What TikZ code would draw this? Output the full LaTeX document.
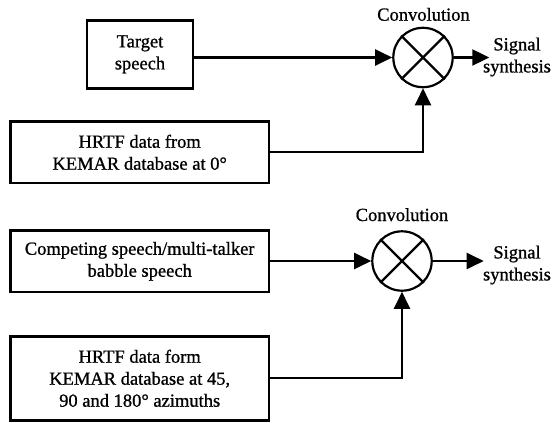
\documentclass[tikz,border=0pt]{standalone}
\usepackage{fontspec}
\setmainfont[FakeBold=0.9]{Liberation Serif}
\usetikzlibrary{arrows.meta}
\begin{document}
\begin{tikzpicture}[x=1pt,y=-1pt,
  txt/.style={font=\fontsize{18.5}{22}\selectfont, align=center, inner sep=0pt},
  box/.style={txt, draw, line width=2.6pt, minimum width=258.3pt, minimum height=61.6pt},
  conv/.style={draw, circle, line width=2.2pt, minimum size=59.4pt, inner sep=0pt},
  arr/.style={line width=2.2pt, -{Triangle[length=17pt,width=16pt]}},
  ln/.style={line width=2.2pt}]
\useasboundingbox (0,0) rectangle (552,423);
% top group
\node[box, minimum width=106pt, minimum height=68pt] (ts) at (140,54.3) {Target\\speech};
\node[box] (h1) at (139.7,152.3) {HRTF data from\\KEMAR database at 0°};
\node[conv] (c1) at (423,57.5) {};
\draw[ln] (c1.north east) -- (c1.south west);
\draw[ln] (c1.north west) -- (c1.south east);
\node[txt, anchor=base] (cv1) at (423.5,20.7) {Convolution};
\coordinate (o1) at (489.3,57.5);
\node[txt] (s1) at (517,57) {Signal\\synthesis};
\draw[arr] (ts.east |- c1.west) -- (c1.west);
\draw[arr] (h1.east) -| (c1.south);
\draw[arr] (c1.east) -- (o1);
% bottom group
\node[box] (cs) at (139.7,261.3) {Competing speech/multi-talker\\babble speech};
\node[box, minimum height=84pt] (h2) at (139.7,378.3) {HRTF data form\\KEMAR database at 45,\\90 and 180° azimuths};
\node[conv] (c2) at (402,261) {};
\draw[ln] (c2.north east) -- (c2.south west);
\draw[ln] (c2.north west) -- (c2.south east);
\node[txt, anchor=base] (cv2) at (402,221) {Convolution};
\coordinate (o2) at (483.7,261);
\node[txt] (s2) at (517,265) {Signal\\synthesis};
\draw[arr] (cs.east |- c2.west) -- (c2.west);
\draw[arr] (h2.east) -| (c2.south);
\draw[arr] (c2.east) -- (o2);
\end{tikzpicture}
\end{document}
